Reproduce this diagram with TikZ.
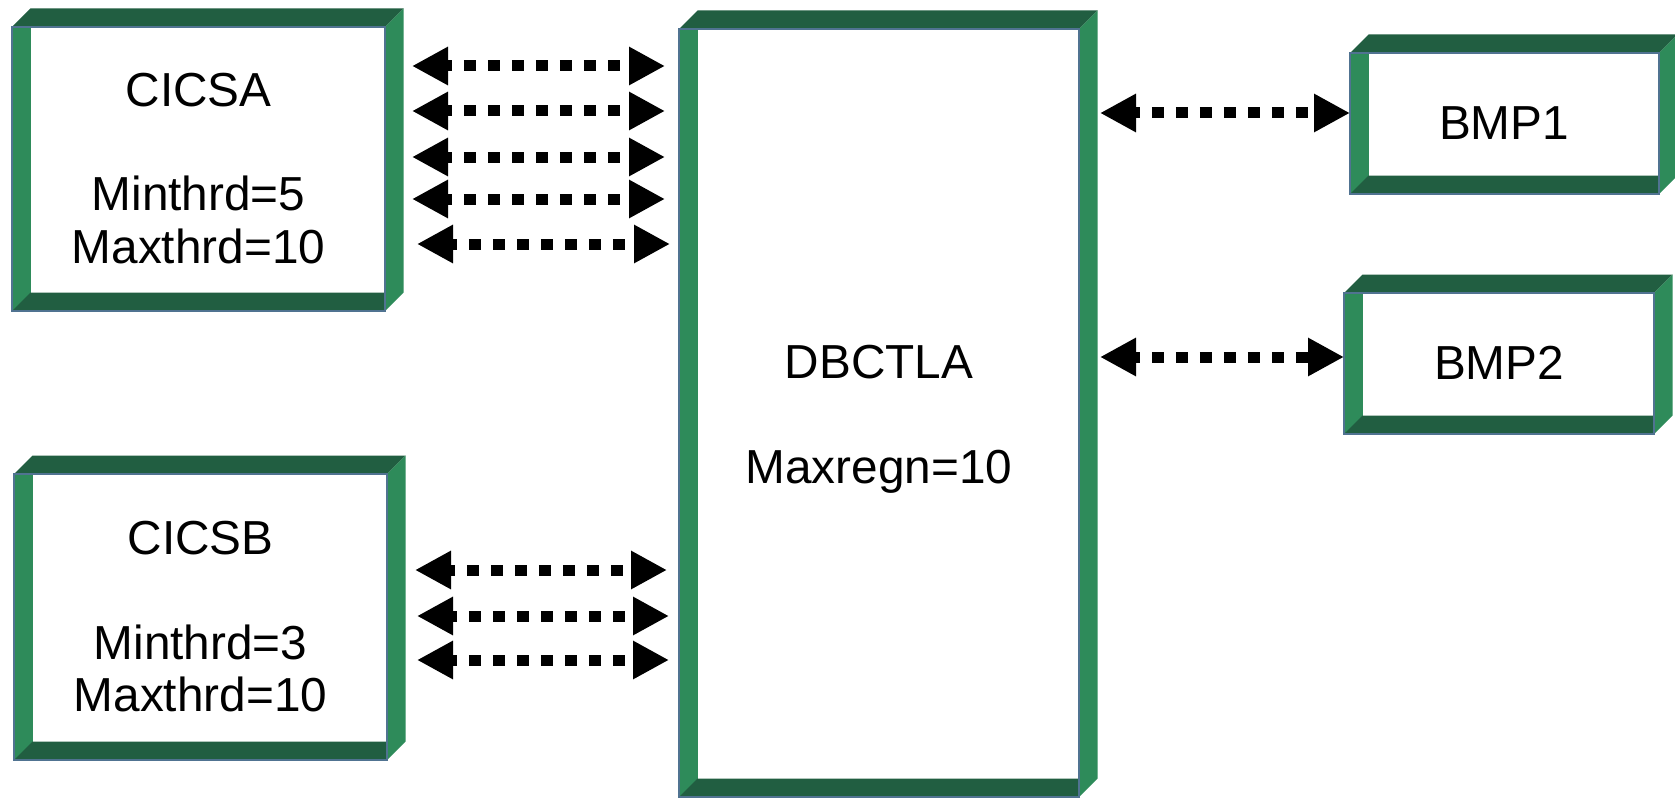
\documentclass[tikz,border=0pt]{standalone}
\usepackage{fontspec}
\setmainfont{Liberation Sans}
\usetikzlibrary{arrows.meta,calc,fit}
\definecolor{lightg}{RGB}{46,139,90}
\definecolor{darkg}{RGB}{33,94,65}
\definecolor{edgeb}{RGB}{80,115,145}
\tikzset{
  lbl/.style={anchor=base, inner sep=0pt, font=\fontsize{35.8pt}{39.4pt}\selectfont},
  frontbox/.style={inner sep=0pt, outer sep=0pt, draw=edgeb, line width=1pt},
  dbl/.style={line width=8.25pt, dash pattern=on 9pt off 9pt, dash phase=4.5pt,
    {Triangle[length=27pt,width=27pt]}-{Triangle[length=27pt,width=27pt]}}
}
% name, L, T, R, B
\newcommand{\boxthreed}[5]{%
  \def\dd{18.5}%
  \fill[darkg] (#2,#3) -- (#2+\dd,#3-\dd) -- (#4+\dd,#3-\dd) -- (#4,#3) -- cycle;
  \fill[lightg] (#4,#3) -- (#4+\dd,#3-\dd) -- (#4+\dd,#5-\dd) -- (#4,#5) -- cycle;
  \fill[lightg] (#2,#3) -- (#2+\dd,#3) -- (#2+\dd,#5) -- (#2,#5) -- cycle;
  \fill[darkg] (#2,#5) -- (#2+\dd,#5-\dd) -- (#4,#5-\dd) -- (#4,#5) -- cycle;
  \node[frontbox, fit={(#2,#3) (#4,#5)}] (#1) {};
}
\begin{document}
\begin{tikzpicture}[x=0.75pt, y=-0.75pt]
\useasboundingbox (0,0) rectangle (1675,799);
\fill[white] (0,0) rectangle (1675,799);

\boxthreed{cicsa}{12}{27}{385}{311}
\boxthreed{cicsb}{14}{474}{387}{760}
\boxthreed{dbctla}{679}{29}{1079}{797}
\boxthreed{bmpone}{1350}{53}{1659}{194}
\boxthreed{bmptwo}{1344}{293}{1654}{434}

\node[lbl] (cicsa1) at (198.5,107) {CICSA};
\node[lbl] (cicsa2) at (198.5,210) {Minthrd=5};
\node[lbl] (cicsa3) at (198.5,263) {Maxthrd=10};
\node[lbl] (cicsb1) at (200.5,554) {CICSB};
\node[lbl] (cicsb2) at (200.5,659) {Minthrd=3};
\node[lbl] (cicsb3) at (200.5,711) {Maxthrd=10};
\node[lbl] (dbctla1) at (879,378) {DBCTLA};
\node[lbl] (dbctla2) at (879,483) {Maxregn=10};
\node[lbl] (bmpone1) at (1504,139) {BMP1};
\node[lbl] (bmptwo1) at (1499,379) {BMP2};

\draw[dbl] ($(cicsa.east|-0,66)+(27,0)$) -- ($(dbctla.west|-0,66)+(-14,0)$);
\draw[dbl] ($(cicsa.east|-0,111)+(27,0)$) -- ($(dbctla.west|-0,111)+(-14,0)$);
\draw[dbl] ($(cicsa.east|-0,157)+(27,0)$) -- ($(dbctla.west|-0,157)+(-14,0)$);
\draw[dbl] ($(cicsa.east|-0,199)+(27,0)$) -- ($(dbctla.west|-0,199)+(-14,0)$);
\draw[dbl] ($(cicsa.east|-0,244)+(32,0)$) -- ($(dbctla.west|-0,244)+(-9,0)$);

\draw[dbl] ($(cicsb.east|-0,570)+(28,0)$) -- ($(dbctla.west|-0,570)+(-12,0)$);
\draw[dbl] ($(cicsb.east|-0,616)+(30,0)$) -- ($(dbctla.west|-0,616)+(-10,0)$);
\draw[dbl] ($(cicsb.east|-0,660)+(30,0)$) -- ($(dbctla.west|-0,660)+(-10,0)$);

\draw[dbl] ($(dbctla.east|-0,113)+(21,0)$) -- (bmpone.west|-0,113);
\draw[dbl] ($(dbctla.east|-0,357)+(21,0)$) -- (bmptwo.west|-0,357);
\end{tikzpicture}
\end{document}
